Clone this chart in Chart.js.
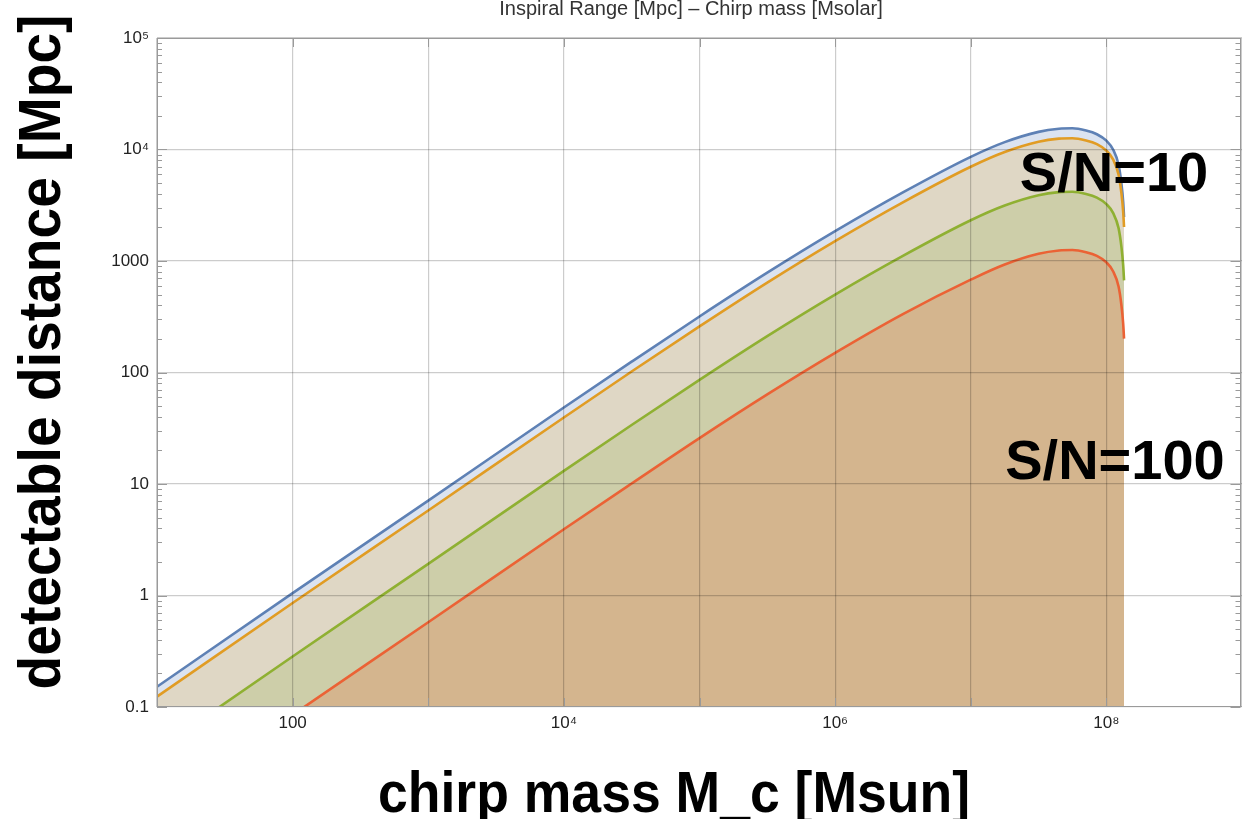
<!DOCTYPE html>
<html>
<head>
<meta charset="utf-8">
<script src="https://cdn.jsdelivr.net/npm/chart.js@4.4.0/dist/chart.umd.min.js"></script>
<style>
  html, body { margin: 0; padding: 0; background: #fff; }
  #wrap { width: 1242px; height: 819px; }
</style>
</head>
<body>
<div id="wrap"><canvas id="rangeChart" width="1242" height="819"></canvas></div>
<script>
// chirp mass [Msun]
const masses = [10, 100, 1e3, 1e4, 3.16e4, 1e5, 3.16e5, 1e6, 3.16e6, 1e7, 1.78e7, 3.16e7, 4.47e7, 5.62e7, 7.08e7, 8.51e7, 1e8, 1.12e8, 1.23e8, 1.29e8, 1.33e8, 1.35e8];

// detectable distance [Mpc]
const rangeBlue   = [0.152, 1.05, 7.1, 48.5, 125, 318, 785, 1850, 4120, 8590, 11640, 14390, 15350, 15490, 14790, 13710, 12000, 10000, 7300, 5000, 3400, 2480];
const rangeOrange = [0.124, 0.856, 5.79, 39.5, 102, 259, 640, 1508, 3358, 7000, 9490, 11730, 12510, 12620, 12050, 11170, 9780, 8150, 5950, 4075, 2770, 2020];
const rangeGreen  = [0.041, 0.284, 1.92, 13.1, 33.8, 85.9, 212, 500, 1112, 2319, 3143, 3885, 4145, 4182, 3993, 3702, 3240, 2700, 1971, 1350, 918, 670];
const rangeRed    = [0.0123, 0.085, 0.575, 3.93, 10.1, 25.8, 63.6, 150, 334, 680, 930, 1160, 1243, 1255, 1198, 1110, 972, 810, 591, 405, 275, 201];

const xDecades = [10, 100, 1e3, 1e4, 1e5, 1e6, 1e7, 1e8, 1e9];
const xLabels = { 100: '100', 10000: '10\u2074', 1000000: '10\u2076', 100000000: '10\u2078' };
const yDecades = [0.1, 1, 10, 100, 1000, 1e4, 1e5];
const yLabels = ['0.1', '1', '10', '100', '1000', '10\u2074', '10\u2075'];

const toPoints = ys => masses.map((m, i) => ({ x: m, y: ys[i] }));

function series(ys, line, fill) {
    return {
        data: toPoints(ys),
        borderColor: line,
        backgroundColor: fill,
        borderWidth: 2.6,
        pointRadius: 0,
        fill: 'start',
        cubicInterpolationMode: 'monotone'
    };
}

// frame, inward ticks and the free text
const decorPlugin = {
    id: 'decor',
    afterDraw(chart) {
        const { ctx, chartArea: a, scales } = chart;
        ctx.save();
        ctx.strokeStyle = '#9a9a9a';
        ctx.lineWidth = 1;
        ctx.strokeRect(a.left + 0.5, a.top + 0.5, a.right - a.left - 2, a.bottom - a.top - 1);

        ctx.beginPath();
        yDecades.forEach(d => {
            for (let m = 1; m <= 9; m++) {
                const v = d * m;
                if (v > 1e5) break;
                const py = Math.round(scales.y.getPixelForValue(v)) + 0.5;
                const len = m === 1 ? 10 : 5;
                ctx.moveTo(a.left, py); ctx.lineTo(a.left + len, py);
                ctx.moveTo(a.right - 1.5, py); ctx.lineTo(a.right - 1.5 - len, py);
            }
        });
        xDecades.forEach(d => {
            const px = Math.round(scales.x.getPixelForValue(d)) + 0.5;
            ctx.moveTo(px, a.bottom); ctx.lineTo(px, a.bottom - 9);
            ctx.moveTo(px, a.top); ctx.lineTo(px, a.top + 9);
        });
        ctx.stroke();

        ctx.fillStyle = '#333';
        ctx.textAlign = 'center';
        ctx.textBaseline = 'alphabetic';
        ctx.font = '20px "Liberation Sans", Arial, sans-serif';
        ctx.fillText('Inspiral Range [Mpc] \u2013 Chirp mass [Msolar]', 691, 15, 528);

        ctx.fillStyle = '#000';
        ctx.font = 'bold 58px "Liberation Sans", Arial, sans-serif';
        ctx.fillText('chirp mass M_c [Msun]', 674, 812, 592);

        ctx.font = 'bold 56px "Liberation Sans", Arial, sans-serif';
        ctx.fillText('S/N=10', 1114, 191, 198);
        ctx.fillText('S/N=100', 1115, 479, 230);

        ctx.translate(60, 352);
        ctx.rotate(-Math.PI / 2);
        ctx.font = 'bold 60px "Liberation Sans", Arial, sans-serif';
        ctx.fillText('detectable distance [Mpc]', 0, 0, 675);
        ctx.restore();
    }
};

const gridColor = 'rgba(0, 0, 0, 0.2)';
const tickFont = { family: '"Liberation Sans", Arial, sans-serif', size: 17 };

new Chart(document.getElementById('rangeChart').getContext('2d'), {
    type: 'line',
    data: {
        datasets: [
            series(rangeRed, '#eb6235', '#d4b58e'),
            series(rangeGreen, '#8fb032', '#cdcea9'),
            series(rangeOrange, '#e19c24', '#dfd7c5'),
            series(rangeBlue, '#5e81b5', '#dbe3f0')
        ]
    },
    options: {
        responsive: false,
        animation: false,
        layout: { padding: { top: 38, right: 0, left: 0, bottom: 0 } },
        plugins: {
            legend: { display: false },
            tooltip: { enabled: false }
        },
        scales: {
            x: {
                type: 'logarithmic',
                min: 10,
                max: 1e9,
                afterBuildTicks: s => { s.ticks = xDecades.map(v => ({ value: v })); },
                afterFit: s => { s.height = 112; s.paddingLeft = 0; s.paddingRight = 0; },
                ticks: {
                    autoSkip: false,
                    maxRotation: 0,
                    color: '#222',
                    font: tickFont,
                    padding: 6,
                    callback: v => xLabels[v] || ''
                },
                grid: { color: gridColor, lineWidth: 1.2, z: 1, drawTicks: false },
                border: { display: false }
            },
            y: {
                type: 'logarithmic',
                min: 0.1,
                max: 1e5,
                afterBuildTicks: s => { s.ticks = yDecades.map(v => ({ value: v })); },
                afterFit: s => { s.width = 157; s.paddingTop = 0; s.paddingBottom = 0; },
                ticks: {
                    autoSkip: false,
                    color: '#222',
                    font: tickFont,
                    padding: 8,
                    callback: (v, i) => yLabels[i]
                },
                grid: { color: gridColor, lineWidth: 1.2, z: 1, drawTicks: false },
                border: { display: false }
            }
        }
    },
    plugins: [decorPlugin]
});
</script>
</body>
</html>
